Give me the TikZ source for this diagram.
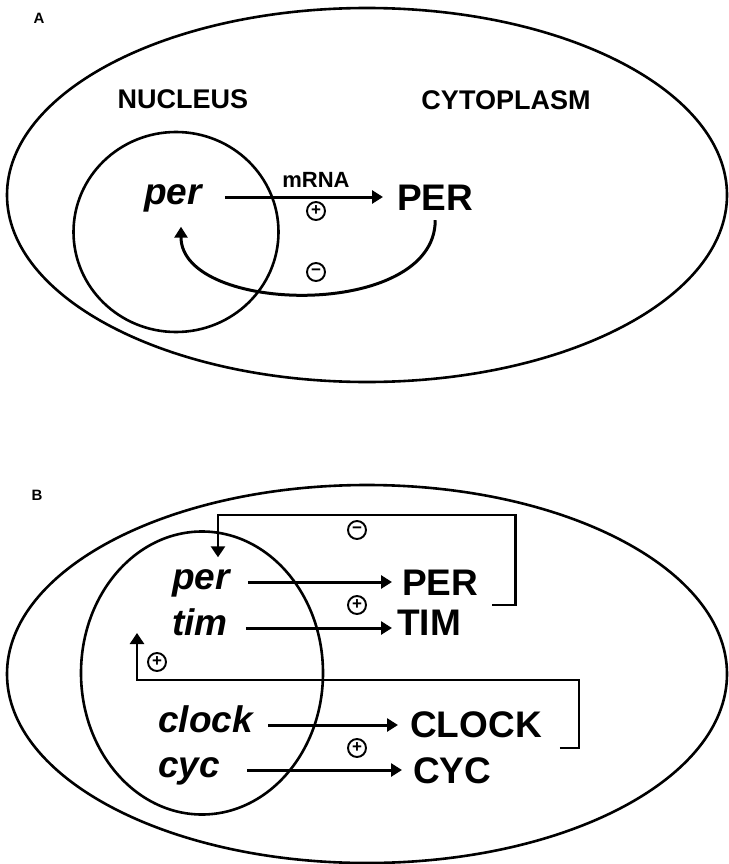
\documentclass[tikz,border=0pt]{standalone}
\usepackage{fontspec}
\setmainfont{Liberation Sans}
\usetikzlibrary{shapes.geometric, arrows.meta}

\begin{document}
\begin{tikzpicture}[x=1pt, y=-1pt,
  cell/.style={draw, ellipse, line width=2.6pt, inner sep=0pt},
  gene/.style={anchor=west, inner sep=0pt, text height=15pt, text depth=0pt, font=\fontsize{37}{40}\selectfont\bfseries\itshape},
  prot/.style={anchor=west, inner sep=0pt, text height=26pt, text depth=0pt, font=\fontsize{37}{40}\selectfont\bfseries},
  compart/.style={font=\fontsize{27}{30}\selectfont\bfseries},
  panel/.style={font=\fontsize{15}{18}\selectfont\bfseries},
  sgn/.style={draw, circle, line width=1.9pt, minimum size=18pt, inner sep=0pt, font=\fontsize{17}{17}\selectfont\bfseries},
  link/.style={line width=3pt, -{Triangle[length=11pt, width=13pt]}, shorten <=18pt, shorten >=10pt},
  loop/.style={line width=2.6pt, -{Triangle[length=11pt, width=14pt]}}]
  \useasboundingbox (0,0) rectangle (728,864);

  \node[panel] (labA) at (39,18) {A};
  \node[cell, minimum width=720pt, minimum height=374pt] (cellA) at (367,195) {};
  \node[cell, minimum width=205pt, minimum height=200pt] (nucA) at (176,232) {};
  \node[compart] (nucleus) at (183,99) {NUCLEUS};
  \node[compart] (cytoplasm) at (506,100) {CYTOPLASM};
  \node[gene] (perA) at (144,197) {per};
  \node[prot] (PERA) at (397,197) {PER};
  \node[font=\fontsize{22}{24}\selectfont\bfseries] (mrna) at (316,180) {mRNA};
  \node[sgn] (plusA) at (316,211) {+};
  \node[sgn] (minusA) at (316,272) {−};
  \draw[link, shorten <=23pt, shorten >=14pt] (perA.east) -- (perA.east -| PERA.west);
  \draw[link, shorten <=10pt, shorten >=22pt] (PERA.south) .. controls +(0,110) and +(0,110) .. ([xshift=8pt]perA.south);

  \node[panel] (labB) at (37,495) {B};
  \node[cell, minimum width=720pt, minimum height=378pt] (cellB) at (367,674) {};
  \node[cell, minimum width=242pt, minimum height=283pt] (nucB) at (202,673) {};
  \node[gene] (pB) at (172,582) {per};
  \node[gene] (tB) at (172,628) {tim};
  \node[gene] (clB) at (158,725) {clock};
  \node[gene] (cyB) at (158,770) {cyc};
  \node[prot] (PB) at (402,582) {PER};
  \node[prot] (TB) at (397,622) {TIM};
  \node[prot] (CLB) at (410,724) {CLOCK};
  \node[prot] (CYB) at (413,770) {CYC};
  \node[sgn] (minusB) at (357,530) {−};
  \node[sgn] (plusB1) at (357,605) {+};
  \node[sgn] (plusB2) at (157,662) {+};
  \node[sgn] (plusB3) at (357,748) {+};
  \coordinate[xshift=14pt] (fbPT) at (PB.east |- plusB1);
  \coordinate[xshift=18pt] (fbCC) at (CLB.east |- plusB3);
  \draw[link] (pB.east) -- (pB.east -| PB.west);
  \draw[link, shorten >=5pt] (tB.east) -- (tB.east -| TB.west);
  \draw[link, shorten <=15pt, shorten >=12pt] (clB.east) -- (clB.east -| CLB.west);
  \draw[link, shorten <=27pt, shorten >=11pt] (cyB.east) -- (cyB.east -| CYB.west);
  \draw[loop, shorten >=17pt] (fbPT) -- ++(23,0) -- ++(0,-90) -| ([xshift=17pt]pB.north);
  \draw[loop, shorten >=5pt] (fbCC) -- ++(19,0) -- ++(0,-68) -| ([xshift=-35pt]tB.west);
\end{tikzpicture}
\end{document}
